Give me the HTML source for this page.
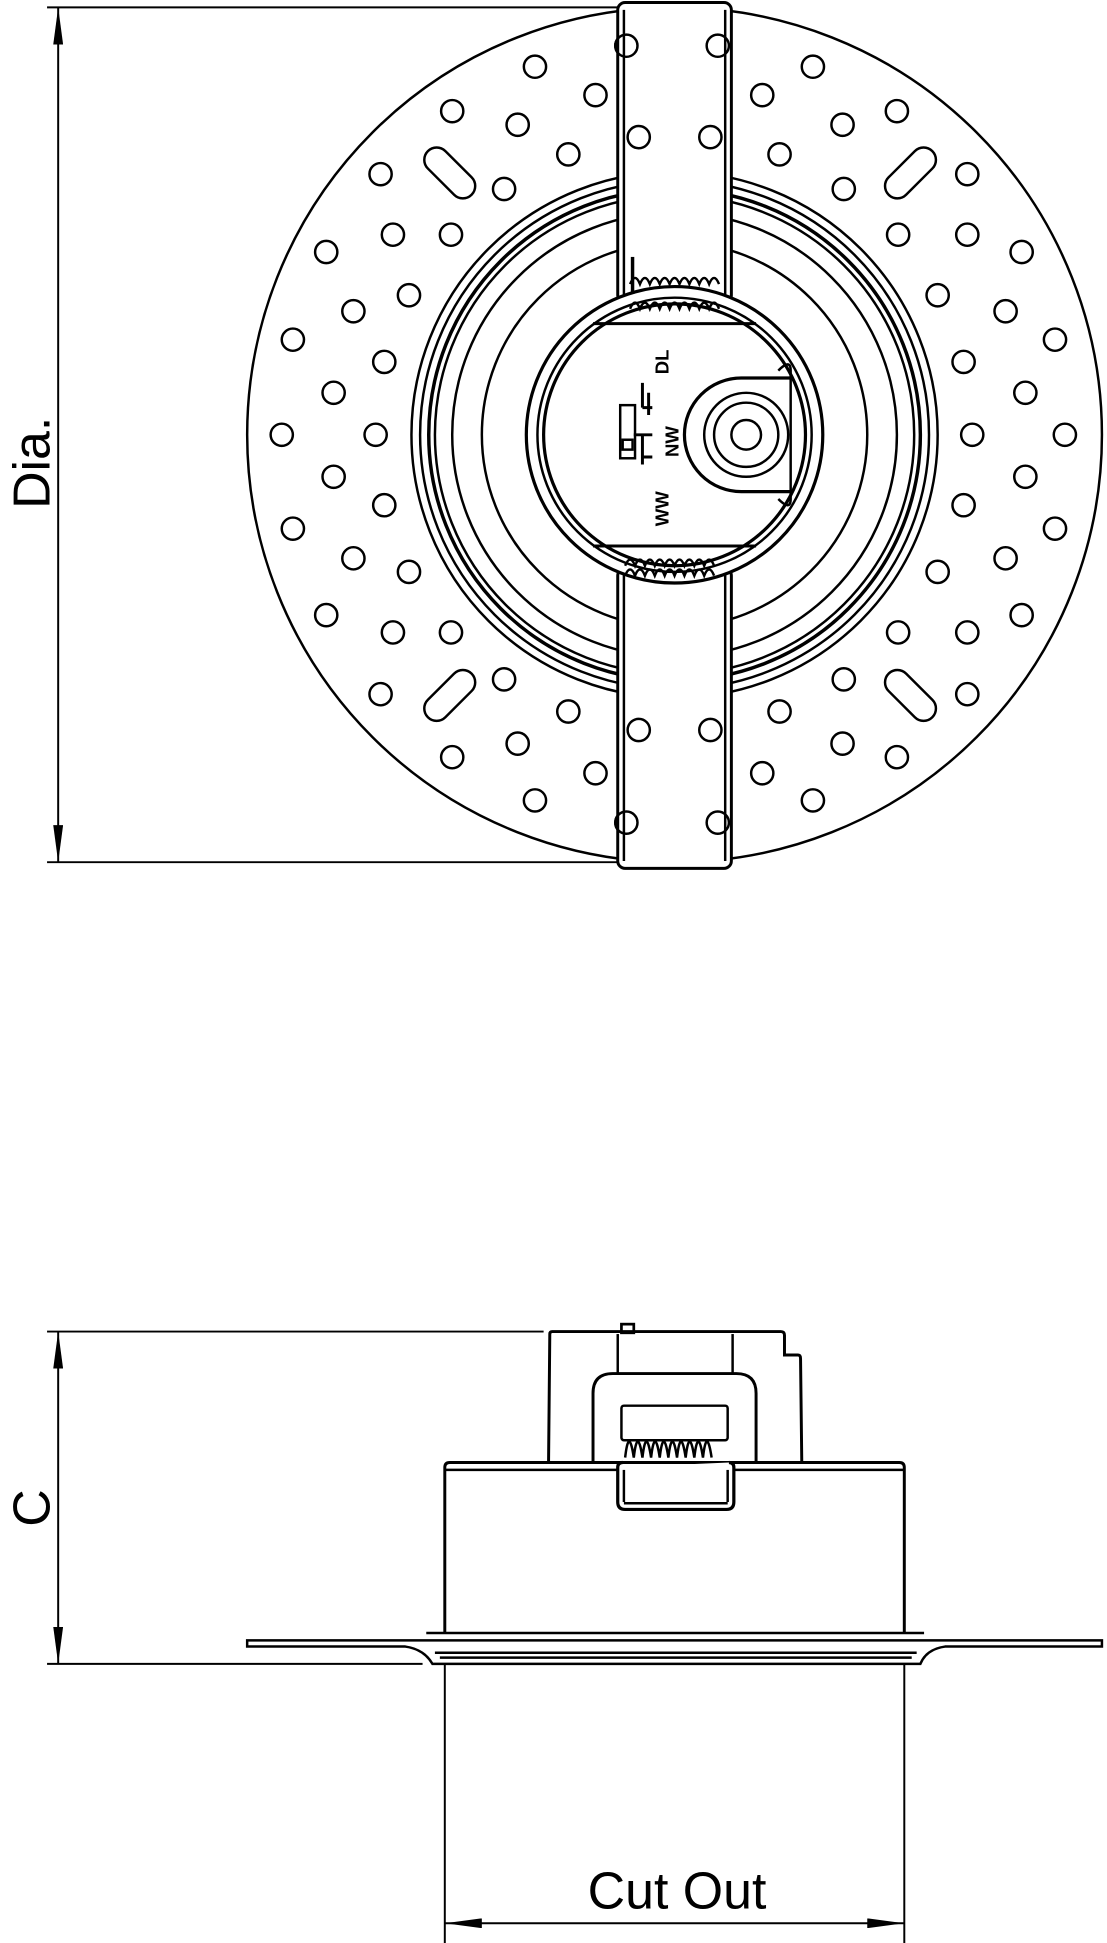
<!DOCTYPE html>
<html><head><meta charset="utf-8"><style>html,body{margin:0;padding:0;background:#fff}svg{display:block}</style></head>
<body>
<svg width="1107" height="1943" viewBox="0 0 896 1573" xmlns="http://www.w3.org/2000/svg" font-family="'Liberation Sans', sans-serif">
<defs>
<marker id="a" viewBox="0 0 30 8" refX="30" refY="4" markerWidth="30" markerHeight="8" markerUnits="userSpaceOnUse" orient="auto-start-reverse"><path d="M0,0 L30,4 L0,8 Z" fill="#000"/></marker>
</defs>
<g fill="none" stroke="#000" stroke-width="2">
<circle cx="546" cy="352" r="346"/>
<g stroke-width="2">
<circle cx="507" cy="37" r="9"/><circle cx="581" cy="37" r="9"/><circle cx="433" cy="54" r="9"/><circle cx="658" cy="54" r="9"/>
<circle cx="482" cy="77" r="9"/><circle cx="550" cy="69" r="9"/><circle cx="617" cy="77" r="9"/><circle cx="366" cy="90" r="9"/><circle cx="726" cy="90" r="9"/>
<circle cx="419" cy="101" r="9"/><circle cx="682" cy="101" r="9"/><circle cx="517" cy="111" r="9"/><circle cx="575" cy="111" r="9"/>
<circle cx="460" cy="125" r="9"/><circle cx="631" cy="125" r="9"/><circle cx="308" cy="141" r="9"/><circle cx="783" cy="141" r="9"/>
<circle cx="408" cy="153" r="9"/><circle cx="683" cy="153" r="9"/><circle cx="365" cy="190" r="9"/><circle cx="318" cy="190" r="9"/>
<circle cx="727" cy="190" r="9"/><circle cx="783" cy="190" r="9"/><circle cx="264" cy="204" r="9"/><circle cx="827" cy="204" r="9"/>
<circle cx="331" cy="239" r="9"/><circle cx="759" cy="239" r="9"/><circle cx="286" cy="252" r="9"/><circle cx="814" cy="252" r="9"/>
<circle cx="237" cy="275" r="9"/><circle cx="854" cy="275" r="9"/><circle cx="311" cy="293" r="9"/><circle cx="780" cy="293" r="9"/>
<circle cx="270" cy="318" r="9"/><circle cx="830" cy="318" r="9"/><circle cx="228" cy="352" r="9"/><circle cx="862" cy="352" r="9"/>
<circle cx="304" cy="352" r="9"/><circle cx="787" cy="352" r="9"/><circle cx="270" cy="386" r="9"/><circle cx="830" cy="386" r="9"/>
<circle cx="311" cy="409" r="9"/><circle cx="780" cy="409" r="9"/><circle cx="237" cy="428" r="9"/><circle cx="854" cy="428" r="9"/>
<circle cx="286" cy="452" r="9"/><circle cx="814" cy="452" r="9"/><circle cx="331" cy="463" r="9"/><circle cx="759" cy="463" r="9"/>
<circle cx="264" cy="498" r="9"/><circle cx="827" cy="498" r="9"/><circle cx="318" cy="512" r="9"/><circle cx="365" cy="512" r="9"/>
<circle cx="727" cy="512" r="9"/><circle cx="783" cy="512" r="9"/><circle cx="408" cy="550" r="9"/><circle cx="683" cy="550" r="9"/>
<circle cx="308" cy="562" r="9"/><circle cx="783" cy="562" r="9"/><circle cx="460" cy="576" r="9"/><circle cx="631" cy="576" r="9"/>
<circle cx="517" cy="591" r="9"/><circle cx="575" cy="591" r="9"/><circle cx="366" cy="613" r="9"/><circle cx="726" cy="613" r="9"/>
<circle cx="419" cy="602" r="9"/><circle cx="682" cy="602" r="9"/><circle cx="482" cy="626" r="9"/><circle cx="550" cy="634" r="9"/>
<circle cx="617" cy="626" r="9"/><circle cx="433" cy="648" r="9"/><circle cx="658" cy="648" r="9"/><circle cx="507" cy="666" r="9"/><circle cx="581" cy="666" r="9"/>
<rect x="339" y="130" width="50" height="20" rx="10" transform="rotate(45 364 140)"/>
<rect x="712" y="130" width="50" height="20" rx="10" transform="rotate(-45 737 140)"/>
<rect x="339" y="553" width="50" height="20" rx="10" transform="rotate(-45 364 563)"/>
<rect x="712" y="553" width="50" height="20" rx="10" transform="rotate(45 737 563)"/>
</g>
<circle cx="546" cy="352" r="213"/><circle cx="546" cy="352" r="206"/><circle cx="546" cy="352" r="199" stroke-width="2.8"/>
<circle cx="546" cy="352" r="194"/><circle cx="546" cy="352" r="180"/><circle cx="546" cy="352" r="156"/>
<rect x="500" y="2" width="92" height="243" rx="6" fill="#fff" stroke-width="2.4"/>
<line x1="505" y1="8" x2="505" y2="240"/><line x1="587" y1="8" x2="587" y2="240"/>
<rect x="500" y="460" width="92" height="243" rx="6" fill="#fff" stroke-width="2.4"/>
<line x1="505" y1="465" x2="505" y2="697"/><line x1="587" y1="465" x2="587" y2="697"/>
<circle cx="507" cy="37" r="9"/><circle cx="581" cy="37" r="9"/><circle cx="517" cy="111" r="9"/><circle cx="575" cy="111" r="9"/>
<circle cx="517" cy="591" r="9"/><circle cx="575" cy="591" r="9"/><circle cx="507" cy="666" r="9"/><circle cx="581" cy="666" r="9"/>
<circle cx="546" cy="352" r="120" fill="#fff" stroke-width="2.6"/>
<circle cx="546" cy="352" r="111"/><circle cx="546" cy="352" r="106" stroke-width="2.6"/>
<path d="M480 262 L612 262 M480 442 L612 442" stroke-width="2.4"/>
<path d="M510 230 q4 -10 8 0 q4 -10 8 0 q4 -10 8 0 q4 -10 8 0 q4 -10 8 0 q4 -10 8 0 q4 -10 8 0 q4 -10 8 0 q4 -10 8 0 M510 250 q4 -10 8 0 q4 -10 8 0 q4 -10 8 0 q4 -10 8 0 q4 -10 8 0 q4 -10 8 0 q4 -10 8 0 q4 -10 8 0 q4 -10 8 0" stroke-width="2"/>
<path d="M506 458 q4 -10 8 0 q4 -10 8 0 q4 -10 8 0 q4 -10 8 0 q4 -10 8 0 q4 -10 8 0 q4 -10 8 0 q4 -10 8 0 q4 -10 8 0 M506 466 q4 -10 8 0 q4 -10 8 0 q4 -10 8 0 q4 -10 8 0 q4 -10 8 0 q4 -10 8 0 q4 -10 8 0 q4 -10 8 0 q4 -10 8 0" stroke-width="2"/>
<line x1="512" y1="208" x2="512" y2="238" stroke-width="2.8"/>
<path d="M630 300 Q640 290 640 300 L640 404 Q640 414 630 404" />
<path d="M640 306 L600 306 A46 46 0 0 0 600 398 L640 398" stroke-width="2.6"/>
<circle cx="604" cy="352" r="34"/><circle cx="604" cy="352" r="26"/><circle cx="604" cy="352" r="12"/>
<rect x="502" y="328" width="12" height="43" stroke-width="2"/><rect x="504" y="356" width="8" height="8"/>
<path d="M520 310 L520 330 M520 330 L528 330 M520 376 L520 352 M513 352 L528 352" stroke-width="2.4"/>
<path d="M525 318 L525 336 M520 370 L528 370" stroke-width="2.4"/>
</g>
<g font-weight="bold" font-size="15" fill="#000">
<text transform="translate(541,303) rotate(-90)">DL</text>
<text transform="translate(549,370) rotate(-90)">NW</text>
<text transform="translate(541,426) rotate(-90)">WW</text>
</g>
<g fill="none" stroke="#000" stroke-width="2">
<path d="M444 1184 L445 1080 Q445 1078 447 1078 L632 1078 Q635 1078 635 1081 L635 1097 L646 1097 Q648 1097 648 1100 L649 1184" stroke-width="2.4"/>
<rect x="503" y="1072" width="10" height="7" stroke-width="2.2"/>
<line x1="500" y1="1080" x2="500" y2="1112"/><line x1="593" y1="1080" x2="593" y2="1112"/>
<path d="M480 1184 L480 1128 Q480 1112 496 1112 L596 1112 Q612 1112 612 1128 L612 1184" stroke-width="2.4"/>
<rect x="503" y="1138" width="86" height="28" rx="2" stroke-width="2"/>
<path d="M506 1180 q3 -26 7 0 q3 -26 7 0 q3 -26 7 0 q3 -26 7 0 q3 -26 7 0 q3 -26 7 0 q3 -26 7 0 q3 -26 7 0 q3 -26 7 0 q3 -26 7 0" stroke-width="2"/>
<path d="M360 1322 L360 1188 Q360 1184 364 1184 L728 1184 Q732 1184 732 1188 L732 1322" stroke-width="2.4"/>
<line x1="360" y1="1190" x2="732" y2="1190"/>
<path d="M500 1188 L500 1216 Q500 1222 506 1222 L588 1222 Q594 1222 594 1216 L594 1188 Q594 1184 590 1184 M500 1188 Q500 1184 504 1184" stroke-width="2.6" fill="#fff"/>
<line x1="505" y1="1190" x2="505" y2="1216"/><line x1="589" y1="1190" x2="589" y2="1216"/><line x1="505" y1="1217" x2="589" y2="1217"/>
<path d="M200 1328 L892 1328 L892 1333 L765 1333 Q750 1335 745 1347 L350 1347 Q343 1335 328 1333 L200 1333 Z" stroke-width="2"/>
<line x1="345" y1="1322" x2="748" y2="1322"/><line x1="352" y1="1338" x2="742" y2="1338"/><line x1="356" y1="1342" x2="738" y2="1342"/>
<g stroke-width="1.6">
<line x1="38" y1="6" x2="500" y2="6"/><line x1="38" y1="698" x2="500" y2="698"/>
<line x1="47" y1="6" x2="47" y2="698" marker-start="url(#a)" marker-end="url(#a)"/>
<line x1="38" y1="1078" x2="440" y2="1078"/><line x1="38" y1="1347" x2="342" y2="1347"/>
<line x1="47" y1="1078" x2="47" y2="1347" marker-start="url(#a)" marker-end="url(#a)"/>
<line x1="360" y1="1347" x2="360" y2="1573"/><line x1="732" y1="1347" x2="732" y2="1573"/>
<line x1="360" y1="1557" x2="732" y2="1557" marker-start="url(#a)" marker-end="url(#a)"/>
</g>
</g>
<g fill="#000" font-size="42">
<text transform="translate(40,412) rotate(-90)">Dia.</text>
<text transform="translate(40,1236) rotate(-90)">C</text>
<text x="548" y="1545" text-anchor="middle">Cut Out</text>
</g>
</svg>
</body></html>
